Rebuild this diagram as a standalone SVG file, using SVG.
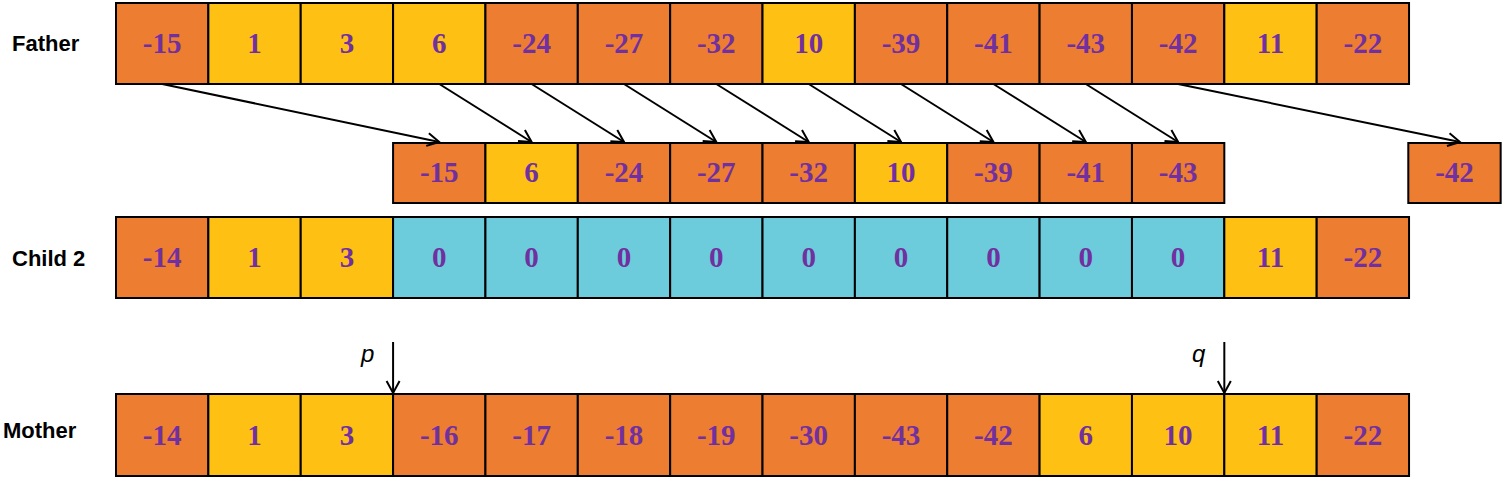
<svg xmlns="http://www.w3.org/2000/svg" width="1505" height="481" viewBox="0 0 1505 481">
<style>
.c rect{stroke:#000;stroke-width:2}
.o{fill:#ED7D31}
.y{fill:#FFC014}
.b{fill:#6DCCDB}
.v{font-family:"Liberation Serif","Times New Roman",serif;font-weight:bold;font-size:29px;fill:#7030A0;text-anchor:middle}
.lab{font-family:"Liberation Sans",Arial,sans-serif;font-weight:bold;font-size:22px;fill:#000}
.pq{font-family:"Liberation Sans",Arial,sans-serif;font-style:italic;font-size:24px;fill:#000}
.a line{stroke:#000;stroke-width:2;fill:none}
</style>
<defs>
<marker id="ah" markerUnits="userSpaceOnUse" markerWidth="16" markerHeight="16" refX="13" refY="8" orient="auto">
<path d="M1,1.5 L13,8 L1,14.5" fill="none" stroke="#000" stroke-width="2"/>
</marker>
</defs>
<text class="lab" x="12" y="51">Father</text>
<text class="lab" x="12" y="266">Child 2</text>
<text class="lab" x="3" y="438">Mother</text>

<g id="father" class="c">
<rect class="o" x="116" y="3" width="92.36" height="81"/><text class="v" x="162.2" y="53">-15</text>
<rect class="y" x="208.36" y="3" width="92.36" height="81"/><text class="v" x="254.5" y="53">1</text>
<rect class="y" x="300.72" y="3" width="92.36" height="81"/><text class="v" x="346.9" y="53">3</text>
<rect class="y" x="393.08" y="3" width="92.36" height="81"/><text class="v" x="439.3" y="53">6</text>
<rect class="o" x="485.44" y="3" width="92.36" height="81"/><text class="v" x="531.6" y="53">-24</text>
<rect class="o" x="577.8" y="3" width="92.36" height="81"/><text class="v" x="624" y="53">-27</text>
<rect class="o" x="670.16" y="3" width="92.36" height="81"/><text class="v" x="716.3" y="53">-32</text>
<rect class="y" x="762.52" y="3" width="92.36" height="81"/><text class="v" x="808.7" y="53">10</text>
<rect class="o" x="854.88" y="3" width="92.36" height="81"/><text class="v" x="901" y="53">-39</text>
<rect class="o" x="947.24" y="3" width="92.36" height="81"/><text class="v" x="993.4" y="53">-41</text>
<rect class="o" x="1039.6" y="3" width="92.36" height="81"/><text class="v" x="1085.8" y="53">-43</text>
<rect class="o" x="1131.96" y="3" width="92.36" height="81"/><text class="v" x="1178.1" y="53">-42</text>
<rect class="y" x="1224.32" y="3" width="92.36" height="81"/><text class="v" x="1270.5" y="53">11</text>
<rect class="o" x="1316.68" y="3" width="92.36" height="81"/><text class="v" x="1362.9" y="53">-22</text>
</g>

<g id="segment" class="c">
<rect class="o" x="393.08" y="143" width="92.36" height="60"/><text class="v" x="439.3" y="182">-15</text>
<rect class="y" x="485.44" y="143" width="92.36" height="60"/><text class="v" x="531.6" y="182">6</text>
<rect class="o" x="577.8" y="143" width="92.36" height="60"/><text class="v" x="624" y="182">-24</text>
<rect class="o" x="670.16" y="143" width="92.36" height="60"/><text class="v" x="716.3" y="182">-27</text>
<rect class="o" x="762.52" y="143" width="92.36" height="60"/><text class="v" x="808.7" y="182">-32</text>
<rect class="y" x="854.88" y="143" width="92.36" height="60"/><text class="v" x="901" y="182">10</text>
<rect class="o" x="947.24" y="143" width="92.36" height="60"/><text class="v" x="993.4" y="182">-39</text>
<rect class="o" x="1039.6" y="143" width="92.36" height="60"/><text class="v" x="1085.8" y="182">-41</text>
<rect class="o" x="1131.96" y="143" width="92.36" height="60"/><text class="v" x="1178.1" y="182">-43</text>
</g>
<g id="extra" class="c">
<rect class="o" x="1408.3" y="143" width="92.36" height="60"/><text class="v" x="1454.5" y="182">-42</text>
</g>

<g id="child2" class="c">
<rect class="o" x="116" y="217" width="92.36" height="81"/><text class="v" x="162.2" y="267">-14</text>
<rect class="y" x="208.36" y="217" width="92.36" height="81"/><text class="v" x="254.5" y="267">1</text>
<rect class="y" x="300.72" y="217" width="92.36" height="81"/><text class="v" x="346.9" y="267">3</text>
<rect class="b" x="393.08" y="217" width="92.36" height="81"/><text class="v" x="439.3" y="267">0</text>
<rect class="b" x="485.44" y="217" width="92.36" height="81"/><text class="v" x="531.6" y="267">0</text>
<rect class="b" x="577.8" y="217" width="92.36" height="81"/><text class="v" x="624" y="267">0</text>
<rect class="b" x="670.16" y="217" width="92.36" height="81"/><text class="v" x="716.3" y="267">0</text>
<rect class="b" x="762.52" y="217" width="92.36" height="81"/><text class="v" x="808.7" y="267">0</text>
<rect class="b" x="854.88" y="217" width="92.36" height="81"/><text class="v" x="901" y="267">0</text>
<rect class="b" x="947.24" y="217" width="92.36" height="81"/><text class="v" x="993.4" y="267">0</text>
<rect class="b" x="1039.6" y="217" width="92.36" height="81"/><text class="v" x="1085.8" y="267">0</text>
<rect class="b" x="1131.96" y="217" width="92.36" height="81"/><text class="v" x="1178.1" y="267">0</text>
<rect class="y" x="1224.32" y="217" width="92.36" height="81"/><text class="v" x="1270.5" y="267">11</text>
<rect class="o" x="1316.68" y="217" width="92.36" height="81"/><text class="v" x="1362.9" y="267">-22</text>
</g>

<g id="mother" class="c">
<rect class="o" x="116" y="394" width="92.36" height="82"/><text class="v" x="162.2" y="445">-14</text>
<rect class="y" x="208.36" y="394" width="92.36" height="82"/><text class="v" x="254.5" y="445">1</text>
<rect class="y" x="300.72" y="394" width="92.36" height="82"/><text class="v" x="346.9" y="445">3</text>
<rect class="o" x="393.08" y="394" width="92.36" height="82"/><text class="v" x="439.3" y="445">-16</text>
<rect class="o" x="485.44" y="394" width="92.36" height="82"/><text class="v" x="531.6" y="445">-17</text>
<rect class="o" x="577.8" y="394" width="92.36" height="82"/><text class="v" x="624" y="445">-18</text>
<rect class="o" x="670.16" y="394" width="92.36" height="82"/><text class="v" x="716.3" y="445">-19</text>
<rect class="o" x="762.52" y="394" width="92.36" height="82"/><text class="v" x="808.7" y="445">-30</text>
<rect class="o" x="854.88" y="394" width="92.36" height="82"/><text class="v" x="901" y="445">-43</text>
<rect class="o" x="947.24" y="394" width="92.36" height="82"/><text class="v" x="993.4" y="445">-42</text>
<rect class="y" x="1039.6" y="394" width="92.36" height="82"/><text class="v" x="1085.8" y="445">6</text>
<rect class="y" x="1131.96" y="394" width="92.36" height="82"/><text class="v" x="1178.1" y="445">10</text>
<rect class="y" x="1224.32" y="394" width="92.36" height="82"/><text class="v" x="1270.5" y="445">11</text>
<rect class="o" x="1316.68" y="394" width="92.36" height="82"/><text class="v" x="1362.9" y="445">-22</text>
</g>

<g id="connectors" class="a">
<line x1="162.2" y1="84" x2="439.3" y2="142" marker-end="url(#ah)"/>
<line x1="439.3" y1="84" x2="531.6" y2="142" marker-end="url(#ah)"/>
<line x1="531.6" y1="84" x2="624" y2="142" marker-end="url(#ah)"/>
<line x1="624" y1="84" x2="716.3" y2="142" marker-end="url(#ah)"/>
<line x1="716.3" y1="84" x2="808.7" y2="142" marker-end="url(#ah)"/>
<line x1="808.7" y1="84" x2="901" y2="142" marker-end="url(#ah)"/>
<line x1="901" y1="84" x2="993.4" y2="142" marker-end="url(#ah)"/>
<line x1="993.4" y1="84" x2="1085.8" y2="142" marker-end="url(#ah)"/>
<line x1="1085.8" y1="84" x2="1178.1" y2="142" marker-end="url(#ah)"/>
<line x1="1178.1" y1="84" x2="1460" y2="142" marker-end="url(#ah)"/>
<line x1="393.08" y1="342" x2="393.08" y2="393" marker-end="url(#ah)"/>
<line x1="1224.32" y1="342" x2="1224.32" y2="393" marker-end="url(#ah)"/>
</g>
<text class="pq" x="361" y="362">p</text>
<text class="pq" x="1192" y="362">q</text>
</svg>
